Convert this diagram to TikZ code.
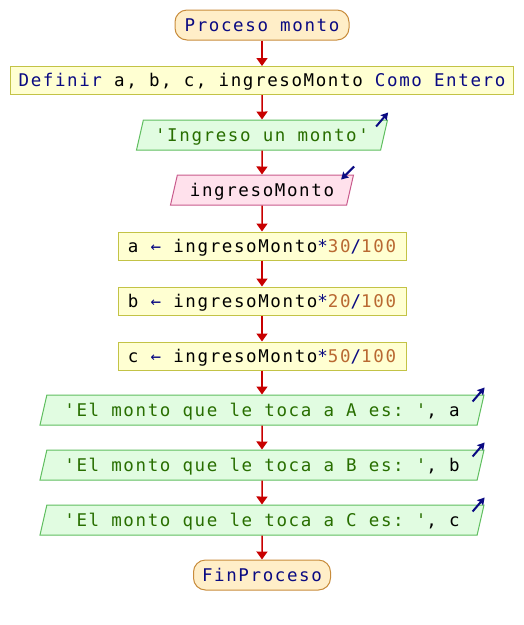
\documentclass[tikz,border=0pt]{standalone}
\usepackage{fontspec}
\setmonofont[LetterSpace=9.2]{DejaVu Sans Mono}
\usetikzlibrary{shapes.geometric, arrows.meta, calc}
\definecolor{navy}{RGB}{10, 10, 130}
\definecolor{numero}{RGB}{185, 105, 50}
\definecolor{cadena}{RGB}{40, 110, 0}
\definecolor{rojo}{RGB}{200, 0, 0}
\definecolor{termborde}{RGB}{200, 140, 60}
\definecolor{termfondo}{RGB}{255, 238, 200}
\definecolor{procborde}{RGB}{195, 195, 70}
\definecolor{procfondo}{RGB}{255, 255, 210}
\definecolor{salborde}{RGB}{95, 190, 95}
\definecolor{salfondo}{RGB}{225, 252, 225}
\definecolor{entborde}{RGB}{200, 90, 140}
\definecolor{entfondo}{RGB}{255, 225, 236}
\newcommand{\kw}[1]{\textcolor{navy}{#1}}
\newcommand{\num}[1]{\textcolor{numero}{#1}}
\newcommand{\str}[1]{\textcolor{cadena}{#1}}

\begin{document}
\begin{tikzpicture}[x=1pt, y=-1pt,
  base/.style={font=\ttfamily\fontsize{17.5}{21}\selectfont, inner sep=0pt, text height=14.5, text depth=2.5, line width=1},
  terminal/.style={base, draw=termborde, fill=termfondo, rounded corners=12, minimum height=30},
  proceso/.style={base, draw=procborde, fill=procfondo, minimum height=28},
  salida/.style={base, trapezium, trapezium left angle=68, trapezium right angle=112, trapezium stretches body, draw=salborde, fill=salfondo, minimum height=30},
  entrada/.style={salida, draw=entborde, fill=entfondo},
  flecha/.style={draw=rojo, line width=1.5, -{Triangle[length=8, width=11]}},
  icono/.style={draw=navy, line width=2, -{Stealth[length=7, width=8, inset=1]}}]
  \useasboundingbox (0,0) rectangle (524,625);

  % nodos
  \node[terminal, minimum width=174] (inicio) at (262,25) {\kw{Proceso monto}};
  \node[proceso, minimum width=503] (definir) at (262,80.5) {\kw{Definir} a, b, c, ingresoMonto \kw{Como Entero}};
  \node[salida, minimum width=251] (ingreso) at (262,135) {\str{'Ingreso un monto'}};
  \node[entrada, minimum width=183] (leer) at (262,190) {ingresoMonto};
  \node[proceso, minimum width=288] (asigA) at (262,246) {a \kw{←} ingresoMonto\kw{*}\num{30}\kw{/}\num{100}};
  \node[proceso, minimum width=288] (asigB) at (262,301) {b \kw{←} ingresoMonto\kw{*}\num{20}\kw{/}\num{100}};
  \node[proceso, minimum width=288] (asigC) at (262,356) {c \kw{←} ingresoMonto\kw{*}\num{50}\kw{/}\num{100}};
  \node[salida, minimum width=444] (salA) at (262,410) {\str{'El monto que le toca a A es: '}, a};
  \node[salida, minimum width=444] (salB) at (262,465) {\str{'El monto que le toca a B es: '}, b};
  \node[salida, minimum width=444] (salC) at (262,520) {\str{'El monto que le toca a C es: '}, c};
  \node[terminal, minimum width=137] (fin) at (262,575) {\kw{FinProceso}};

  % conexiones
  \draw[flecha] (inicio) -- (definir);
  \draw[flecha] (definir) -- (ingreso);
  \draw[flecha] (ingreso) -- (leer);
  \draw[flecha] (leer) -- (asigA);
  \draw[flecha] (asigA) -- (asigB);
  \draw[flecha] (asigB) -- (asigC);
  \draw[flecha] (asigC) -- (salA);
  \draw[flecha] (salA) -- (salB);
  \draw[flecha] (salB) -- (salC);
  \draw[flecha] (salC) -- (fin);

  % iconos de entrada y salida
  \foreach \n in {ingreso, salA, salB, salC}
    \draw[icono] ($(\n.top right corner)+(-12,7)$) -- ($(\n.top right corner)+(0,-7)$);
  \draw[icono] ($(leer.top right corner)+(0,-8)$) -- ($(leer.top right corner)+(-13,5)$);
\end{tikzpicture}
\end{document}
